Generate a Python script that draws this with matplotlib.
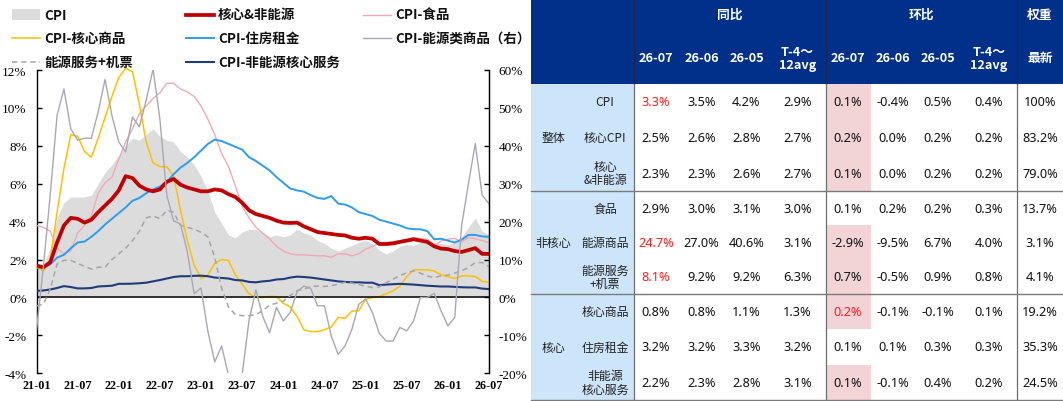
import matplotlib
matplotlib.use('Agg')
import matplotlib.pyplot as plt
import numpy as np
from matplotlib.patches import Rectangle

# ---------------- data ----------------
xlabels = ['21-01', '21-07', '22-01', '22-07', '23-01', '23-07', '24-01',
           '24-07', '25-01', '25-07', '26-01', '26-07']

cpi = [1.5, 1.7, 2.6, 4.2, 5.0, 5.3, 5.3, 5.3, 5.4, 6.0,
       6.6, 7.0, 7.5, 8.0, 8.4, 8.3, 8.6, 8.9, 8.5, 8.3,
       8.2, 7.7, 7.4, 7.0, 6.4, 5.6, 4.5, 3.9, 3.3, 3.15,
       3.45, 3.6, 3.6, 3.4, 3.2, 3.3, 3.2, 3.3, 3.6, 3.4,
       3.3, 3.0, 2.85, 2.6, 2.45, 2.6, 2.75, 2.9, 3.0, 2.85,
       2.5, 2.3, 2.45, 2.7, 2.8, 2.75, 2.9, 3.0, 2.9, 2.85,
       2.8, 2.9, 3.2, 3.7, 4.2, 3.5, 3.3]

core_ex_energy = [1.68, 1.6, 1.85, 2.9, 3.8, 4.2, 4.15, 3.95, 4.1, 4.5,
                  4.85, 5.2, 5.65, 6.4, 6.3, 5.9, 5.7, 5.6, 5.7, 6.1,
                  6.25, 5.95, 5.8, 5.7, 5.6, 5.6, 5.7, 5.65, 5.45, 5.3,
                  5.0, 4.6, 4.4, 4.3, 4.2, 4.05, 3.95, 3.93, 3.95, 3.75,
                  3.6, 3.45, 3.4, 3.35, 3.3, 3.27, 3.15, 3.1, 3.15, 3.1,
                  2.82, 2.82, 2.85, 2.93, 3.0, 3.07, 3.0, 2.93, 2.7, 2.58,
                  2.55, 2.45, 2.4, 2.5, 2.6, 2.3, 2.3]

food = [3.8, 3.7, 3.5, 2.6, 2.3, 2.45, 3.4, 3.8, 4.3, 5.5,
        6.05, 6.35, 7.3, 8.2, 8.9, 9.7, 10.1, 10.5, 10.8, 11.3,
        11.3, 11.0, 10.85, 10.6, 10.1, 9.4, 8.6, 7.6, 6.9, 5.9,
        4.8, 4.2, 3.7, 3.4, 3.1, 2.7, 2.45, 2.3, 2.25, 2.25,
        2.22, 2.2, 2.2, 2.12, 2.3, 2.3, 2.2, 2.3, 2.55, 2.7,
        2.86, 2.9, 2.95, 3.0, 3.07, 3.16, 3.1, 3.07, 2.72, 2.98,
        3.07, 3.12, 2.93, 3.16, 3.1, 3.0, 2.9]

core_goods = [1.6, 1.4, 2.0, 4.5, 6.8, 8.6, 8.5, 7.7, 7.4, 8.4,
              9.5, 10.6, 11.6, 12.1, 11.9, 10.2, 8.2, 7.1, 6.9, 6.9,
              6.4, 4.6, 3.0, 1.7, 1.0, 1.2, 1.8, 2.0, 1.95, 1.2,
              0.7, 0.2, 0.0, 0.0, 0.05, 0.05, -0.3, -0.5, -1.0, -1.7,
              -1.8, -1.8, -1.7, -1.55, -1.05, -1.1, -0.72, -0.7, -0.1, 0.0,
              0.05, 0.2, 0.35, 0.6, 1.1, 1.46, 1.46, 1.46, 1.4, 1.2,
              1.1, 1.0, 1.14, 1.14, 1.1, 0.85, 0.8]

rent = [1.6, 1.55, 1.75, 2.1, 2.25, 2.6, 2.9, 2.95, 3.2, 3.5,
        3.85, 4.15, 4.45, 4.75, 5.1, 5.25, 5.5, 5.7, 5.85, 6.1,
        6.5, 6.85, 7.1, 7.4, 7.75, 8.1, 8.33, 8.25, 8.1, 7.95,
        7.8, 7.4, 7.2, 6.95, 6.7, 6.35, 6.05, 5.75, 5.65, 5.58,
        5.4, 5.25, 5.2, 5.35, 4.95, 4.9, 4.75, 4.5, 4.4, 4.3,
        4.1, 4.0, 3.9, 3.8, 3.65, 3.6, 3.6, 3.5, 3.07, 3.1,
        3.0, 2.9, 3.05, 3.3, 3.3, 3.22, 3.2]

services_ex_energy = [0.35, 0.37, 0.42, 0.5, 0.6, 0.55, 0.48, 0.48, 0.5, 0.58,
                      0.6, 0.62, 0.72, 0.72, 0.73, 0.75, 0.78, 0.85, 0.92, 1.0,
                      1.08, 1.12, 1.12, 1.14, 1.15, 1.12, 1.05, 1.03, 1.0, 0.92,
                      0.9, 0.82, 0.8, 0.85, 0.88, 0.95, 0.97, 1.05, 1.1, 1.08,
                      1.05, 1.0, 0.95, 0.9, 0.85, 0.82, 0.8, 0.8, 0.78, 0.78,
                      0.65, 0.68, 0.7, 0.72, 0.7, 0.68, 0.65, 0.62, 0.6, 0.58,
                      0.58, 0.56, 0.54, 0.53, 0.53, 0.47, 0.44]

# right axis series
energy_goods = [-8.6, 8, 27, 48, 55, 44.5, 41.5, 42, 42, 49,
                57.5, 48, 41, 38.4, 47.6, 45, 52, 60.3, 47, 27,
                20.2, 19.4, 12, 1, 2.5, -9, -17, -12.8, -20.5, -26,
                -20.3, -6, 2, -5, -9.3, -2.6, -6.2, -4, 1.5, 3,
                2.4, -2.2, -2.2, -10.2, -15, -12.8, -8.4, -1.8, -0.4, -4,
                -9.5, -11.5, -11.5, -7.9, -8.8, -6.2, 0, 0, 1.1, -3.5,
                -7.5, -5.3, 18.9, 30, 40.6, 27.0, 24.7]

energy_services_air = [-2.2, -1.8, 2.2, 8.8, 9.8, 9.8, 9.0, 8.2, 7.5, 8.0,
                       8.0, 10.0, 11.5, 13.0, 15.0, 17.5, 21.0, 21.5, 20.8, 23.0,
                       22.5, 19.0, 18.5, 18.0, 17.2, 16.0, 10.5, 2.5, -2.5, -4.5,
                       -4.8, -4.8, -4.5, -3.5, -2.0, -1.5, -1.0, 0.5, 1.8, 2.2,
                       2.9, 3.0, 2.9, 3.1, 3.5, 4.0, 3.8, 3.4, 3.0, 2.6,
                       2.8, 3.9, 4.8, 5.8, 6.5, 7.0, 6.4, 5.7, 5.2, 5.7,
                       5.9, 6.4, 7.0, 7.9, 9.2, 9.2, 8.1]

# table data
groups = ['整体', '非核心', '核心']
items = ['CPI', '核心CPI', '核心\n&非能源', '食品', '能源商品', '能源服务\n+机票',
         '核心商品', '住房租金', '非能源\n核心服务']
col_heads = ['26-07', '26-06', '26-05', 'T-4～\n12avg']
yoy = [[3.3, 3.5, 4.2, 2.9], [2.5, 2.6, 2.8, 2.7], [2.3, 2.3, 2.6, 2.7],
       [2.9, 3.0, 3.1, 3.0], [24.7, 27.0, 40.6, 3.1], [8.1, 9.2, 9.2, 6.3],
       [0.8, 0.8, 1.1, 1.3], [3.2, 3.2, 3.3, 3.2], [2.2, 2.3, 2.8, 3.1]]
mom = [[0.1, -0.4, 0.5, 0.4], [0.2, 0.0, 0.2, 0.2], [0.1, 0.0, 0.2, 0.2],
       [0.1, 0.2, 0.2, 0.3], [-2.9, -9.5, 6.7, 4.0], [0.7, -0.5, 0.9, 0.8],
       [0.2, -0.1, -0.1, 0.1], [0.1, 0.1, 0.3, 0.3], [0.1, -0.1, 0.4, 0.2]]
weights = ['100%', '83.2%', '79.0%', '13.7%', '3.1%', '4.1%', '19.2%', '35.3%', '24.5%']
red_yoy_rows = [0, 4, 5]
red_mom_rows = [6]
pink_mom_rows = [0, 1, 2, 4, 5, 6, 8]

# ---------------- figure ----------------
W, H = 1063, 402
fig = plt.figure(figsize=(W / 100, H / 100), dpi=100)
SERIF = ['Liberation Serif', 'DejaVu Serif']
CJK = ['Noto Sans CJK SC', 'DejaVu Sans']
LAT = ['Noto Sans', 'Noto Sans CJK SC', 'DejaVu Sans']

x = np.arange(len(cpi))
ax = fig.add_axes([36.5 / W, 1 - 374.3 / H, (489 - 36.5) / W, (374.3 - 71) / H])
ax.set_xlim(0, len(cpi) - 1)
ax.set_ylim(-4, 12)
ax.fill_between(x, 0, cpi, color='#DCDCDC', lw=0, zorder=1)
ax.plot(x, food, color='#F0AAB5', lw=1.0, zorder=3)
ax.plot(x, core_goods, color='#FFC000', lw=1.1, zorder=3, clip_on=False)
ax.plot(x, rent, color='#2E9CF0', lw=1.4, zorder=4)
ax.plot(x, services_ex_energy, color='#1F3C7A', lw=1.5, zorder=4)
ax.plot(x, core_ex_energy, color='#C00000', lw=2.7, zorder=5)
ax.axhline(0, color='black', lw=1.1, zorder=6)

ax.set_yticks(np.arange(-4, 13, 2))
ax.set_yticklabels([f'{v}%' for v in range(-4, 13, 2)], family=SERIF, fontsize=9.5)
ax.set_xticks(np.arange(0, len(cpi), 6))
ax.set_xticklabels(xlabels, family=SERIF, fontsize=8.7, fontweight='bold')
ax.tick_params(axis='x', length=0, pad=4)
ax.tick_params(axis='y', direction='in', length=3.5, width=1, pad=7)
for s in ['top', 'bottom']:
    ax.spines[s].set_visible(False)
ax.spines['left'].set_linewidth(1.0)

ax2 = ax.twinx()
ax2.set_ylim(-20, 60)
ax2.plot(x, energy_services_air, color='#A6A6A6', lw=1.1, ls=(0, (3.5, 2.5)))
ax2.plot(x, energy_goods, color='#A8A8B2', lw=1.0)
ax2.set_yticks(np.arange(-20, 61, 10))
ax2.set_yticklabels([f'{v}%' for v in range(-20, 61, 10)], family=SERIF, fontsize=9.5)
ax2.tick_params(axis='y', direction='in', length=3.5, width=1, pad=7)
for s in ['top', 'bottom', 'left']:
    ax2.spines[s].set_visible(False)
ax2.spines['right'].set_linewidth(1.0)

# ---------------- overlay: legend + table ----------------
ov = fig.add_axes([0, 0, 1, 1], zorder=10)
ov.set_xlim(0, W)
ov.set_ylim(H, 0)
ov.axis('off')

leg_items = [
    ('CPI', 0, 0, dict(kind='patch', color='#DCDCDC')),
    ('核心&非能源', 1, 0, dict(kind='line', color='#C00000', lw=2.7)),
    ('CPI-食品', 2, 0, dict(kind='line', color='#F0AAB5', lw=1.0)),
    ('CPI-核心商品', 0, 1, dict(kind='line', color='#FFC000', lw=1.1)),
    ('CPI-住房租金', 1, 1, dict(kind='line', color='#2E9CF0', lw=1.4)),
    ('CPI-能源类商品（右）', 2, 1, dict(kind='line', color='#A8A8B2', lw=1.0)),
    ('能源服务+机票', 0, 2, dict(kind='dash', color='#A6A6A6', lw=1.1)),
    ('CPI-非能源核心服务', 1, 2, dict(kind='line', color='#1F3C7A', lw=1.5)),
]
col_x = [12, 186, 363]
row_y = [15.5, 39, 62.5]
for label, c, r, st in leg_items:
    x0 = col_x[c]
    y0 = row_y[r]
    if st['kind'] == 'patch':
        ov.add_patch(Rectangle((x0, y0 - 5.5), 28, 11, color=st['color'], lw=0))
    elif st['kind'] == 'dash':
        ov.plot([x0, x0 + 28], [y0, y0], color=st['color'], lw=st['lw'], ls=(0, (3.5, 2.5)))
    else:
        ov.plot([x0, x0 + 28], [y0, y0], color=st['color'], lw=st['lw'])
    ov.text(x0 + 32, y0, label, family=CJK, fontsize=9.7, fontweight='bold',
            va='center', ha='left', color='#111111')

# table geometry
T_L, T_R = 531, 1063
lab_R = 634
sec1_R = 826
sec2_R = 1017
hdr_B = 85
col_centers = [656, 701.5, 746.5, 797.5, 848, 893, 938, 989, 1040]
pink_x0, pink_x1 = 826, 871
row_edges = [85, 120.7, 156.3, 192, 226.3, 260.7, 295, 330.3, 365.7, 401]
row_c = [(row_edges[i] + row_edges[i + 1]) / 2 for i in range(9)]

NAVY = '#00308A'
ov.add_patch(Rectangle((T_L, 0), T_R - T_L, hdr_B, color=NAVY, lw=0))
ov.add_patch(Rectangle((T_L, hdr_B), lab_R - T_L, 401 - hdr_B, color='#CCE5FA', lw=0))
for r in pink_mom_rows:
    ov.add_patch(Rectangle((pink_x0, row_edges[r]), pink_x1 - pink_x0,
                           row_edges[r + 1] - row_edges[r], color='#F2D3D6', lw=0))

# lines
for xv in [lab_R, sec1_R, sec2_R]:
    ov.plot([xv, xv], [0, hdr_B], color='#1B2550', lw=0.9)
    ov.plot([xv, xv], [hdr_B, 401], color='#6E6E6E', lw=0.9)
for yv in [192, 295, 401]:
    ov.plot([T_L, T_R], [yv, yv], color='#7A7A7A', lw=1.0)

# header text
hdr_kw = dict(family=CJK, fontsize=9.2, fontweight='bold', color='white',
              ha='center', va='center')
ov.text((lab_R + sec1_R) / 2, 15.5, '同比', **hdr_kw)
ov.text((sec1_R + sec2_R) / 2, 15.5, '环比', **hdr_kw)
ov.text(col_centers[8], 15.5, '权重', **hdr_kw)
for k in range(8):
    ov.text(col_centers[k], 58.5, col_heads[k % 4], linespacing=1.0, **hdr_kw)
ov.text(col_centers[8], 58.5, '最新', **hdr_kw)

# body text
lab_kw = dict(family=CJK, fontsize=8.6, ha='center', va='center')
num_kw = dict(family=LAT, fontsize=9.2, ha='center', va='center')
for g, gi in enumerate(groups):
    yc = row_c[g * 3 + 1]
    ov.text(553.5, yc, gi, color='#222222', **lab_kw)
for i, it in enumerate(items):
    ov.text(605, row_c[i], it, color='#222222', linespacing=1.05, **lab_kw)
    for k in range(4):
        colr = '#FF2020' if (k == 0 and i in red_yoy_rows) else '#111111'
        ov.text(col_centers[k], row_c[i], f'{yoy[i][k]:.1f}%', color=colr, **num_kw)
        colr = '#FF2020' if (k == 0 and i in red_mom_rows) else '#111111'
        ov.text(col_centers[4 + k], row_c[i], f'{mom[i][k]:.1f}%', color=colr, **num_kw)
    ov.text(col_centers[8], row_c[i], weights[i], color='#111111', **num_kw)

fig.savefig('out.png', dpi=100)
